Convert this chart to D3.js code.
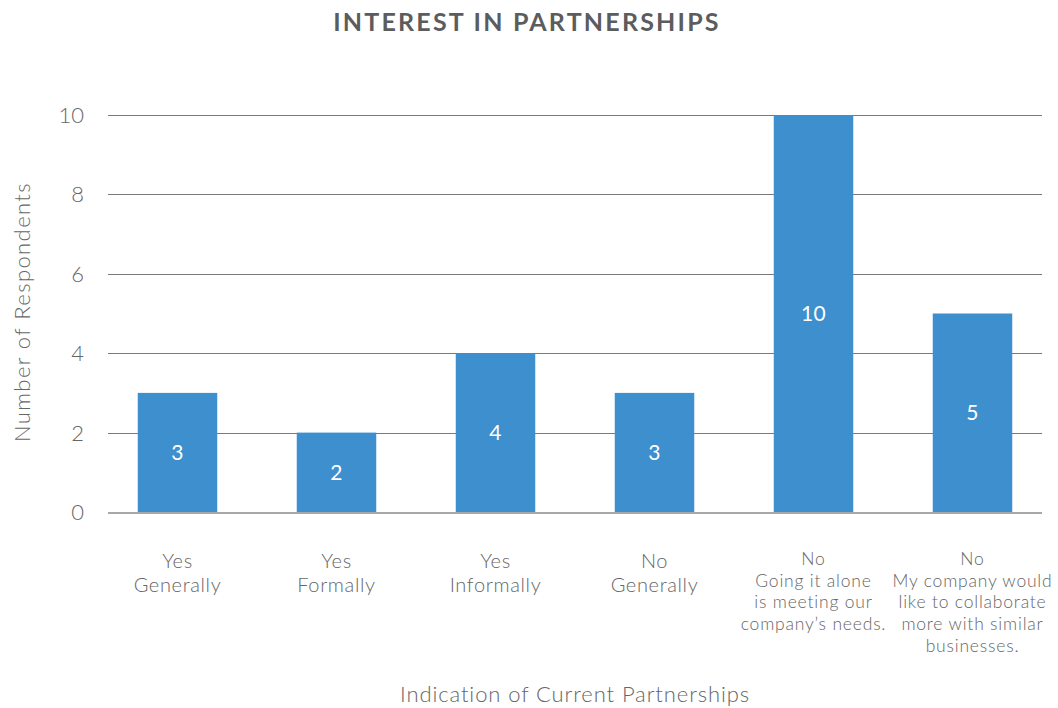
<!DOCTYPE html>
<html><head><meta charset="utf-8">
<script src="https://cdn.jsdelivr.net/npm/d3@7"></script>
<style>
body{margin:0;background:#fff;}
text{font-family:Lato,"Open Sans",sans-serif;}
</style></head><body>
<svg id="c" width="1058" height="708"></svg>
<script>
const categories = [
  ["Yes","Generally"],
  ["Yes","Formally"],
  ["Yes","Informally"],
  ["No","Generally"],
  ["No","Going it alone","is meeting our","company\u2019s needs."],
  ["No","My company would","like to collaborate","more with similar","businesses."]
];
const values = [3, 2, 4, 3, 10, 5];
const yTicks = [0, 2, 4, 6, 8, 10];
const title = "INTEREST IN PARTNERSHIPS";
const xTitle = "Indication of Current Partnerships";
const yTitle = "Number of Respondents";

const svg = d3.select("#c");
const gridLeft = 108, gridRight = 1042;
const x = d3.scaleBand().domain(d3.range(values.length)).range([98, 1052]).paddingInner(0.5).paddingOuter(0.25);
const y = d3.scaleLinear().domain([0, 10]).range([512, 115]);

svg.append("text").attr("x", 527).attr("y", 31).attr("text-anchor", "middle")
  .attr("font-size", 25).attr("font-weight", 700).attr("letter-spacing", 2.2)
  .attr("fill", "#5b5c5e").text(title);

// gridlines
svg.append("g").selectAll("line").data(yTicks.filter(d => d > 0)).join("line")
  .attr("x1", gridLeft).attr("x2", gridRight)
  .attr("y1", d => Math.round(y(d)) + 0.5).attr("y2", d => Math.round(y(d)) + 0.5)
  .attr("stroke", "#7a7a7a").attr("stroke-width", 1);

// tick labels
svg.append("g").selectAll("text").data(yTicks).join("text")
  .attr("x", 84).attr("y", d => y(d)).attr("dy", "0.36em")
  .attr("text-anchor", "end").attr("font-size", 22).attr("font-weight", 300)
  .attr("fill", "#666").text(d => d);

// bars
svg.append("g").selectAll("rect").data(values).join("rect")
  .attr("x", (d, i) => x(i)).attr("width", x.bandwidth())
  .attr("y", d => y(d)).attr("height", d => y(0) - y(d))
  .attr("fill", "#3d8fce");

// baseline
svg.append("line").attr("x1", gridLeft).attr("x2", gridRight)
  .attr("y1", y(0) + 1).attr("y2", y(0) + 1)
  .attr("stroke", "#a8a8a8").attr("stroke-width", 2);

// value labels
svg.append("g").selectAll("text").data(values).join("text")
  .attr("x", (d, i) => x(i) + x.bandwidth() / 2)
  .attr("y", d => (y(d) + y(0)) / 2).attr("dy", "0.36em")
  .attr("text-anchor", "middle").attr("font-size", 21).attr("letter-spacing", 0.3)
  .attr("fill", "#fff").text(d => d);

// category labels
const cg = svg.append("g").selectAll("text").data(categories).join("text")
  .attr("text-anchor", "middle").attr("fill", "#666").attr("font-weight", 300)
  .attr("font-size", d => d.length > 2 ? 17.5 : 20)
  .attr("letter-spacing", d => d.length > 2 ? 0.8 : 0.65);
cg.each(function(d, i) {
  const t = d3.select(this);
  const lh = d.length > 2 ? 21.7 : 24;
  const y0 = d.length > 2 ? 565 : 568;
  d.forEach((line, j) => {
    t.append("tspan").attr("x", x(i) + x.bandwidth() / 2).attr("y", y0 + j * lh).text(line);
  });
});

// axis titles
svg.append("text").attr("x", (gridLeft + gridRight) / 2).attr("y", 702).attr("text-anchor", "middle")
  .attr("font-size", 22).attr("font-weight", 300).attr("letter-spacing", 0.9)
  .attr("fill", "#666").text(xTitle);
svg.append("text").attr("transform", "translate(30,312) rotate(-90)").attr("text-anchor", "middle")
  .attr("font-size", 22).attr("font-weight", 300).attr("letter-spacing", 1.4)
  .attr("fill", "#666").text(yTitle);
</script>
</body></html>
